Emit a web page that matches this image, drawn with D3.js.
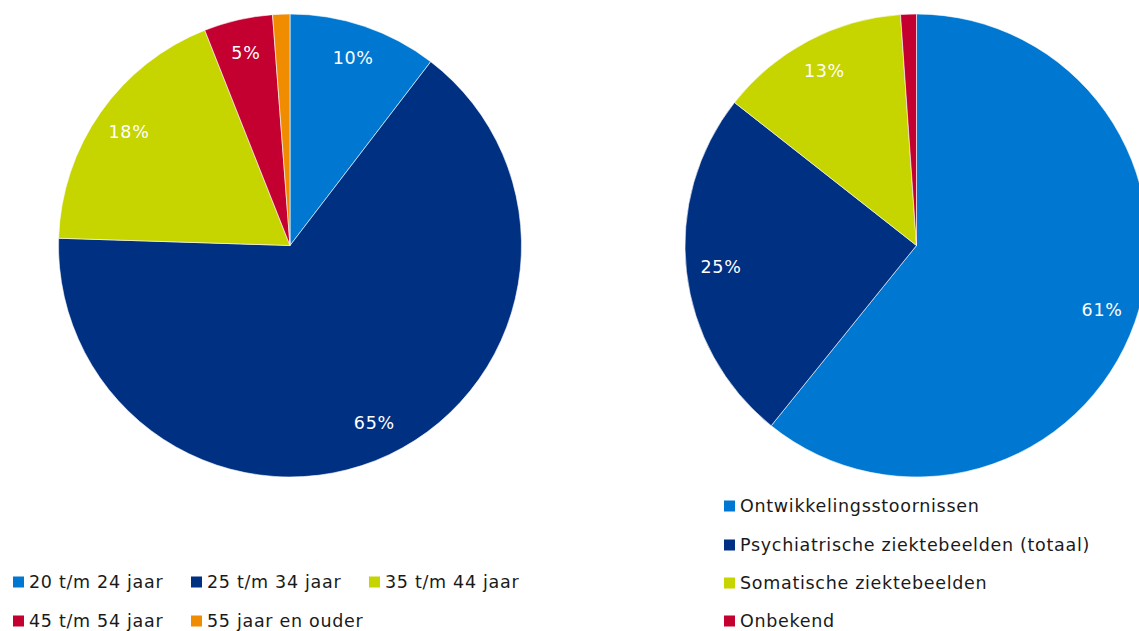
<!DOCTYPE html>
<html><head><meta charset="utf-8">
<script src="https://cdn.jsdelivr.net/npm/d3@7"></script>
<style>body{margin:0;background:#fff;overflow:hidden}svg{display:block}</style>
</head><body>
<script>
const ageCategories = ["20 t/m 24 jaar","25 t/m 34 jaar","35 t/m 44 jaar","45 t/m 54 jaar","55 jaar en ouder"];
const ageValues = [10.4, 65.1, 18.5, 4.8, 1.2];
const ageLabels = ["10%","65%","18%","5%",""];
const diagCategories = ["Ontwikkelingsstoornissen","Psychiatrische ziektebeelden (totaal)","Somatische ziektebeelden","Onbekend"];
const diagValues = [60.8, 24.8, 13.3, 1.1];
const diagLabels = ["61%","25%","13%",""];
const ageColors = ["#0078d2","#003082","#c6d400","#c3002f","#f08c00"];
const diagColors = ["#0078d2","#003082","#c6d400","#c3002f"];

const W = 1139, H = 631;
const svg = d3.select("body").append("svg").attr("width", W).attr("height", H);
const font = "Verdana, 'DejaVu Sans', sans-serif";
const R = 231.5;

function drawPie(cx, cy, values, labels, colors) {
  const g = svg.append("g").attr("transform", `translate(${cx},${cy})`);
  const pie = d3.pie().sort(null).value(d => d);
  const arcs = pie(values);
  const arc = d3.arc().innerRadius(0).outerRadius(R);
  const labelArc = d3.arc().innerRadius(R * 0.85).outerRadius(R * 0.85);
  g.selectAll("path").data(arcs).join("path")
    .attr("d", arc).attr("fill", (d, i) => colors[i])
    .attr("stroke", "#fff").attr("stroke-width", 0.6);
  g.selectAll("text").data(arcs).join("text")
    .attr("transform", d => `translate(${labelArc.centroid(d)})`)
    .attr("text-anchor", "middle").attr("dy", "0.3em")
    .attr("fill", "#fff").style("font-family", font).style("font-size", "17.5px")
    .style("letter-spacing", "0.7px")
    .text((d, i) => labels[i]);
}

drawPie(290, 245.5, ageValues, ageLabels, ageColors);
drawPie(916.5, 245.5, diagValues, diagLabels, diagColors);

function legend(items, colors, positions) {
  items.forEach((t, i) => {
    const [x, y] = positions[i];
    svg.append("rect").attr("x", x).attr("y", y - 5.5).attr("width", 11).attr("height", 11).attr("fill", colors[i]);
    svg.append("text").attr("x", x + 16).attr("y", y).attr("dy", "0.36em")
      .style("font-family", font).style("font-size", "17.5px").style("letter-spacing", "0.7px")
      .attr("fill", "#1a1a1a").text(t);
  });
}
legend(ageCategories, ageColors, [[13,582],[191,582],[369,582],[13,621],[191,621]]);
legend(diagCategories, diagColors, [[724,506],[724,545],[724,583],[724,621]]);
</script>
</body></html>
